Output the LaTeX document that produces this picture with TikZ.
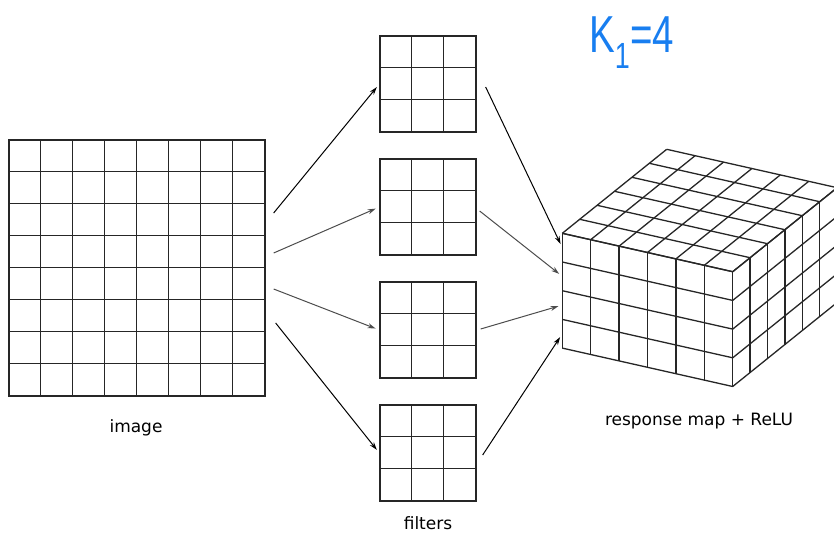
\documentclass[tikz,border=0pt]{standalone}
\usepackage{fontspec}
\setmainfont{DejaVu Sans}
\newfontfamily\handfont{Liberation Sans}
\usetikzlibrary{positioning,arrows.meta}
\definecolor{handblue}{RGB}{24,126,240}

\begin{document}
\begin{tikzpicture}[x=1pt,y=-1pt,
gridline/.style={line width=1.3pt,draw=black!85},
filterbox/.style={rectangle,gridline,minimum size=96pt,inner sep=0pt},
arrow/.style={-{Stealth[length=8pt,width=5pt]},line width=1pt,shorten >=4pt},
caption/.style={font=\fontsize{17}{20}\selectfont,anchor=base},
handnote/.style={font=\handfont\fontsize{52}{60}\selectfont,text=handblue,xscale=0.74,transform shape,anchor=base west,inner sep=0pt}]
\clip (0,0) rectangle (834,533);

% input image, 8x8
\node[rectangle,gridline,minimum size=256pt,inner sep=0pt](img) at (137,268){};
\foreach \k in {1,...,7}{
  \draw[gridline,shift={(img.north west)}] (32*\k,0) -- (32*\k,256);
  \draw[gridline,shift={(img.north west)}] (0,32*\k) -- (256,32*\k);
}
\node[caption](imglabel) at (136,432){image};

% four 3x3 filters
\foreach \n/\yc in {f1/84,f2/207,f3/330,f4/453}{
  \node[filterbox](\n) at (428,\yc){};
  \foreach \k in {1,2}{
    \draw[gridline,shift={(\n.north west)}] (32*\k,0) -- (32*\k,96);
    \draw[gridline,shift={(\n.north west)}] (0,32*\k) -- (96,32*\k);
  }
}
\node[caption](filtlabel) at (428,529){filters};

% response map, 6x6x4 block
\coordinate (c0) at (562.3,233.3);
\begin{scope}[shift={(c0)},x={(28.4pt,-6.4pt)},y={(0pt,-28.7pt)},z={(17.4pt,14pt)}]
  \foreach \i in {0,...,6}{
    \draw[gridline] (\i,0,0) -- (\i,4,0);
    \draw[gridline] (\i,0,0) -- (\i,0,6);
    \draw[gridline] (0,0,\i) -- (6,0,\i);
    \draw[gridline] (6,0,\i) -- (6,4,\i);
  }
  \foreach \j in {0,...,4}{
    \draw[gridline] (0,\j,0) -- (6,\j,0);
    \draw[gridline] (6,\j,0) -- (6,\j,6);
  }
  \foreach \j [count=\r] in {0.5,1.5,2.5,3.5}
    \coordinate (r\r) at (0,\j,0);
\end{scope}
\node[caption](maplabel) at (699,425){response map + ReLU};

% image -> filters
\draw[arrow]([shift={(8,-55)}]img.east) -- (f1.west);
\draw[arrow,black!70]([shift={(8,-15)}]img.east) -- (f2.west);
\draw[arrow,black!70]([shift={(8,21)}]img.east) -- (f3.west);
\draw[arrow]([shift={(10,55)}]img.east) -- (f4.west);

% filters -> response map
\draw[arrow]([shift={(9,3)}]f1.east) -- (r1);
\draw[arrow,black!70]([shift={(3,4)}]f2.east) -- (r2);
\draw[arrow,black!70]([shift={(4,-1)}]f3.east) -- (r3);
\draw[arrow]([shift={(6,2)}]f4.east) -- (r4);

\node[handnote](k1) at (589,52){K\textsubscript{1}=4};
\end{tikzpicture}
\end{document}
